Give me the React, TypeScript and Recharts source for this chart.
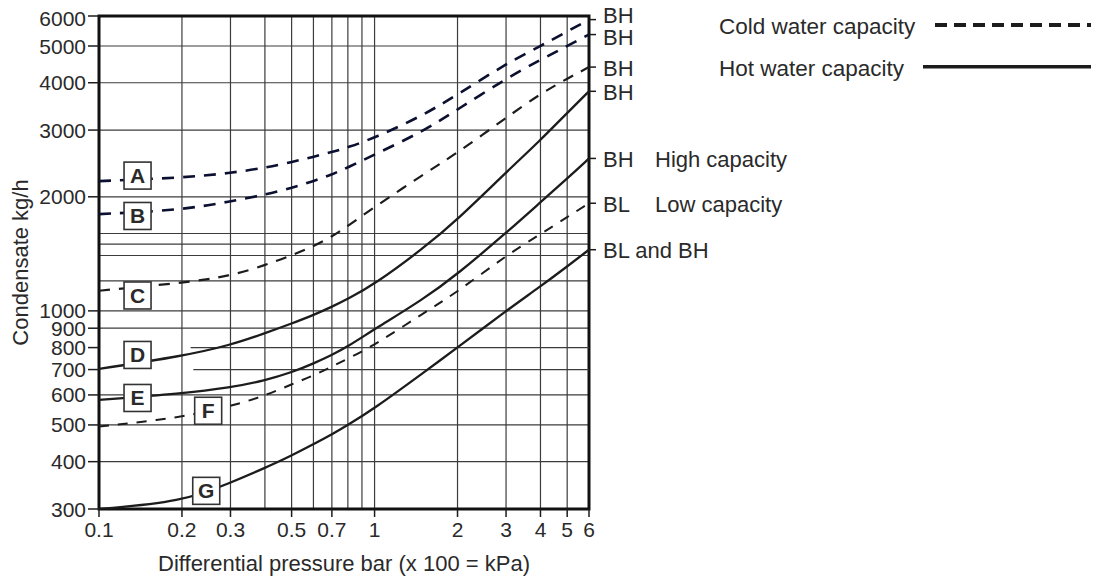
import { ComposedChart, Line, Scatter, XAxis, YAxis, CartesianGrid, ReferenceArea, ReferenceLine } from 'recharts';

// differential pressure, bar
const pressure = [0.1, 0.2, 0.3, 0.4, 0.5, 0.6, 0.7, 0.8, 1, 1.5, 2, 3, 4, 5, 6];

// condensate kg/h
const curveA = [2200, 2245, 2310, 2385, 2470, 2550, 2625, 2700, 2860, 3280, 3720, 4490, 5000, 5460, 5870];
const curveB = [1800, 1845, 1945, 2025, 2110, 2200, 2290, 2390, 2586, 2975, 3400, 4100, 4600, 5000, 5360];
const curveC = [1130, 1185, 1235, 1320, 1400, 1480, 1570, 1675, 1880, 2290, 2612, 3232, 3743, 4100, 4399];
const curveD = [703, 759, 812, 873, 926, 975, 1025, 1075, 1175, 1460, 1741, 2320, 2822, 3330, 3797];
const curveE = [582, 605, 627, 655, 688, 726, 765, 805, 895, 1072, 1250, 1605, 1935, 2235, 2525];
const curveF = [495, 523, 560, 597, 640, 675, 713, 748, 812, 985, 1122, 1400, 1594, 1768, 1923];
const curveG = [300, 313, 352, 385, 415, 445, 472, 500, 553, 686, 800, 1000, 1160, 1310, 1450];

const endLabels = ['BH', 'BH', 'BH', 'BH', 'BH', 'BL', 'BL and BH'];
const endNotes = ['', '', '', '', 'High capacity', 'Low capacity', ''];

// curve letter boxes
const boxLetters = ['A', 'B', 'C', 'D', 'E', 'F', 'G'];
const boxPressure = [0.138, 0.138, 0.138, 0.138, 0.138, 0.249, 0.245];
const boxFlow = [2275, 1780, 1098, 765, 589, 545, 335];

const xTicks = [0.1, 0.2, 0.3, 0.4, 0.5, 0.6, 0.7, 0.8, 0.9, 1, 2, 3, 4, 5, 6];
const xLabelled = [0.1, 0.2, 0.3, 0.5, 0.7, 1, 2, 3, 4, 5, 6];
const yTicks = [300, 400, 500, 600, 700, 800, 900, 1000, 1200, 1400, 1500, 1600, 2000, 3000, 4000, 5000, 6000];
const yLabelled = [300, 400, 500, 600, 700, 800, 900, 1000, 2000, 3000, 4000, 5000, 6000];
// the 700 and 800 rules only start part way across
const partialRules = [800, 700];
const partialFrom = [0.215, 0.22];

const curves = [curveA, curveB, curveC, curveD, curveE, curveF, curveG];
const endValues = curves.map((c) => c[c.length - 1]);

const rows = pressure.map((p, i) => {
  const row: Record<string, number> = { p };
  boxLetters.forEach((k, j) => {
    row[k] = curves[j][i];
  });
  return row;
});

const boxes = boxLetters.map((name, i) => ({ p: boxPressure[i], flow: boxFlow[i], name }));

const NAVY = '#0c1030';
const INK = '#1c1c1c';
const TEXT = '#2a2a2a';
const FONT = '"Liberation Sans", Arial, Helvetica, sans-serif';

const styles = [
  { color: NAVY, width: 2.6, dash: '12 9' },
  { color: NAVY, width: 2.6, dash: '12 9' },
  { color: INK, width: 2.2, dash: '11 9' },
  { color: INK, width: 2.3, dash: undefined },
  { color: INK, width: 2.3, dash: undefined },
  { color: INK, width: 2, dash: '10 9' },
  { color: INK, width: 2.3, dash: undefined },
];

const LeftTick = ({ x, y, payload }: any) => {
  const v = payload.value;
  if (!yLabelled.includes(v)) return <g />;
  return (
    <g>
      <line x1={x - 11} x2={x} y1={y} y2={y} stroke={INK} strokeWidth={1.5} />
      <text x={x - 13} y={y + 7.5 + (v === 6000 ? 2 : 0)} textAnchor="end" fontSize={21} fill={TEXT} fontFamily={FONT}>
        {v}
      </text>
    </g>
  );
};

const BottomTick = ({ x, y, payload }: any) => {
  const v = payload.value;
  if (!xLabelled.includes(v)) return <g />;
  return (
    <g>
      <line x1={x} x2={x} y1={y} y2={y + 8} stroke={INK} strokeWidth={1.5} />
      <text x={x} y={y + 28} textAnchor="middle" fontSize={21} fill={TEXT} fontFamily={FONT}>
        {v}
      </text>
    </g>
  );
};

const RightTick = ({ x, y, payload }: any) => {
  const i = endValues.indexOf(payload.value);
  if (i < 0) return <g />;
  const shift = i === 0 ? 3 : i === 1 ? 10 : 8.5;
  return (
    <g>
      <line x1={x} x2={x + 7} y1={y} y2={y} stroke={INK} strokeWidth={1.5} />
      <text x={x + 14} y={y + shift} fontSize={22} fill={TEXT} fontFamily={FONT}>
        {endLabels[i]}
      </text>
      {endNotes[i] && (
        <text x={x + 66} y={y + shift} fontSize={22} fill={TEXT} fontFamily={FONT}>
          {endNotes[i]}
        </text>
      )}
    </g>
  );
};

const YTitle = (props: any) => {
  const vb = props.viewBox || { x: 0, y: 16, width: 91, height: 493 };
  const cx = vb.x + 12;
  const cy = vb.y + vb.height / 2;
  return (
    <text
      x={cx}
      y={cy}
      transform={`rotate(-90 ${cx} ${cy})`}
      textAnchor="middle"
      dominantBaseline="central"
      fontSize={22}
      fill={TEXT}
      fontFamily={FONT}
    >
      Condensate kg/h
    </text>
  );
};

const XTitle = (props: any) => {
  const vb = props.viewBox || { x: 91, y: 509, width: 490, height: 70 };
  return (
    <text x={vb.x + vb.width / 2} y={vb.y + 62} textAnchor="middle" fontSize={22} fill={TEXT} fontFamily={FONT}>
      Differential pressure bar (x 100 = kPa)
    </text>
  );
};

const LetterBox = (props: any) => {
  const { cx, cy, payload } = props;
  return (
    <g>
      <rect x={cx - 13.5} y={cy - 13.5} width={27} height={27} fill="#fff" stroke="#333" strokeWidth={1.6} />
      <text x={cx} y={cy + 7.5} textAnchor="middle" fontSize={21} fontWeight="bold" fill={TEXT} fontFamily={FONT}>
        {payload.name}
      </text>
    </g>
  );
};

const Key = () => (
  <svg width={380} height={90} style={{ position: 'absolute', left: 711, top: 0 }}>
    <text x={0} y={34.3} fontSize={22.5} fill={TEXT} fontFamily={FONT}>
      Cold water capacity
    </text>
    <line x1={216} x2={377} y1={25} y2={25} stroke={INK} strokeWidth={4} strokeDasharray="12 7" />
    <text x={0} y={76} fontSize={22.5} fill={TEXT} fontFamily={FONT}>
      Hot water capacity
    </text>
    <line x1={204} x2={377} y1={66.7} y2={66.7} stroke={INK} strokeWidth={3.5} />
  </svg>
);

export default function App() {
  const gridFlow = yTicks.filter((v) => !partialRules.includes(v));
  return (
    <div style={{ position: 'relative', width: 1091, height: 579, marginTop: -8, fontFamily: FONT }}>
      <ComposedChart width={1091} height={579} data={rows} margin={{ top: 16, right: 310, bottom: 0, left: 0 }}>
        <CartesianGrid stroke="#3c3c3c" strokeWidth={1.2} horizontalValues={gridFlow} verticalValues={xTicks} />
        {partialRules.map((v, i) => (
          <ReferenceLine
            key={v}
            segment={[
              { x: partialFrom[i], y: v },
              { x: 6, y: v },
            ]}
            stroke="#3c3c3c"
            strokeWidth={1.2}
          />
        ))}
        <XAxis
          dataKey="p"
          type="number"
          scale="log"
          domain={[0.1, 6]}
          allowDataOverflow
          ticks={xTicks}
          interval={0}
          tick={BottomTick}
          tickLine={false}
          axisLine={false}
          tickSize={0}
          tickMargin={0}
          height={70}
          label={XTitle}
        />
        <YAxis
          type="number"
          scale="log"
          domain={[300, 6000]}
          allowDataOverflow
          ticks={yTicks}
          interval={0}
          tick={LeftTick}
          tickLine={false}
          axisLine={false}
          tickSize={0}
          tickMargin={0}
          width={91}
          label={YTitle}
        />
        <YAxis
          yAxisId="r"
          orientation="right"
          type="number"
          scale="log"
          domain={[300, 6000]}
          allowDataOverflow
          ticks={endValues}
          interval={0}
          tick={RightTick}
          tickLine={false}
          axisLine={false}
          tickSize={0}
          tickMargin={0}
          width={200}
        />
        <ReferenceArea x1={0.1} x2={6} y1={300} y2={6000} fill="none" stroke="#111" strokeWidth={3} />
        {boxLetters.map((k, i) => (
          <Line
            key={k}
            dataKey={k}
            type="basis"
            stroke={styles[i].color}
            strokeWidth={styles[i].width}
            strokeDasharray={styles[i].dash}
            dot={false}
            activeDot={false}
            isAnimationActive={false}
          />
        ))}
        <Scatter data={boxes} dataKey="flow" shape={LetterBox} isAnimationActive={false} />
      </ComposedChart>
      <Key />
    </div>
  );
}
